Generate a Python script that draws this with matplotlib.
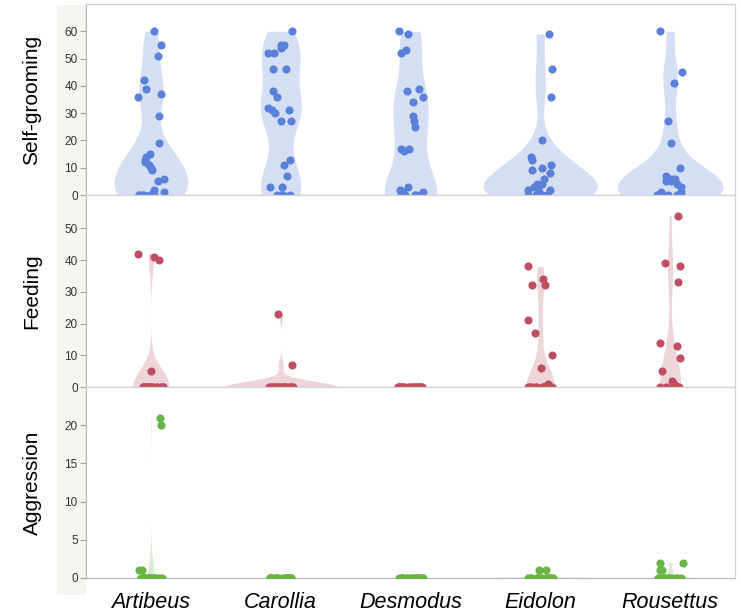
import numpy as np
import matplotlib
matplotlib.use('Agg')
import matplotlib.pyplot as plt
from matplotlib.patches import Rectangle

plt.rcParams['font.family'] = ['Liberation Sans', 'DejaVu Sans']

# categories
species = ['Artibeus', 'Carollia', 'Desmodus', 'Eidolon', 'Rousettus']
behaviours = ['Self-grooming', 'Feeding', 'Aggression']

# values, one list per species
self_grooming = [
    [60, 55, 51, 42, 39, 37, 36, 29, 19, 15, 14, 13, 12, 11, 10, 9, 6, 5, 2, 1, 0, 0, 0, 0, 0, 0, 0],
    [60, 55, 55, 54, 52, 52, 46, 46, 38, 36, 32, 31, 31, 30, 27, 27, 13, 11, 7, 3, 3, 0, 0, 0, 0],
    [60, 59, 53, 52, 39, 38, 36, 34, 29, 27, 25, 17, 17, 16, 3, 2, 1, 1, 0, 0, 0, 0, 0],
    [59, 46, 36, 20, 14, 13, 11, 10, 9, 8, 6, 4, 4, 3, 3, 2, 2, 1, 0, 0, 0, 0, 0, 0],
    [60, 45, 41, 27, 19, 10, 7, 6, 6, 5, 5, 4, 3, 1, 1, 0, 0, 0, 0, 0, 0],
]
feeding = [
    [42, 41, 40, 5] + [0] * 20,
    [23, 7] + [0] * 23,
    [0] * 23,
    [38, 34, 32, 32, 21, 17, 10, 6, 1] + [0] * 13,
    [54, 39, 38, 33, 14, 13, 9, 5, 2, 1] + [0] * 8,
]
aggression = [
    [21, 20, 1, 1] + [0] * 20,
    [0] * 25,
    [0] * 23,
    [1, 1] + [0] * 20,
    [2, 2, 1, 1] + [0] * 14,
]
y_max = [70, 60.5, 25]
y_ticks = [np.arange(0, 61, 10), np.arange(0, 51, 10), np.arange(0, 21, 5)]

dot_colors = ['#5b80da', '#bf4e60', '#6ab447']
fill_colors = ['#d5dff4', '#eed5da', '#d7ecd0']


def kde_shape(vals, n_grid=300):
    # gaussian kde (scott bandwidth, adjusted), cut at the data range
    v = np.asarray(vals, float)
    if v.std() == 0:
        return None
    h = 0.72 * v.std(ddof=1) * len(v) ** -0.2
    y = np.linspace(v.min(), v.max(), n_grid)
    d = np.exp(-0.5 * ((y[:, None] - v[None, :]) / h) ** 2).sum(1)
    d = d / (len(v) * h * np.sqrt(2 * np.pi))
    return y, d


fig = plt.figure(figsize=(7.41, 6.13), dpi=100)
W, H = 741.0, 613.0

# beige strip behind the y tick labels
fig.add_artist(Rectangle((57 / W, 1 - 595 / H), 29 / W, 590 / H,
                         transform=fig.transFigure, color='#f6f5f0', lw=0, zorder=0))

left, right = 86 / W, 735 / W
edges = [4, 195, 387, 578]
rng = np.random.default_rng(7)
axes = []
for k, data in enumerate([self_grooming, feeding, aggression]):
    top = 1 - edges[k] / H
    bot = 1 - edges[k + 1] / H
    ax = fig.add_axes([left, bot, right - left, top - bot])
    axes.append(ax)

    shapes = [kde_shape(v) for v in data]
    peak = max(s[1].max() for s in shapes if s is not None)
    scale = 0.44 / peak
    for i, s in enumerate(shapes):
        if s is None:
            continue
        y, d = s
        ax.fill_betweenx(y, i - d * scale, i + d * scale, color=fill_colors[k], lw=0, zorder=1)

    for i, v in enumerate(data):
        xs = i + rng.uniform(-0.1, 0.1, len(v))
        ax.scatter(xs, v, s=34, color=dot_colors[k], lw=0, zorder=3)

    ax.set_xlim(-0.5, 4.5)
    ax.set_ylim(0, y_max[k])
    ax.set_yticks(y_ticks[k])
    ax.tick_params(axis='y', length=4, width=0.8, color='#a0a0a0', labelsize=8.5,
                   labelcolor='#333333', pad=2)
    for side in ['top', 'right', 'bottom']:
        ax.spines[side].set_color('#d4d4d4')
        ax.spines[side].set_linewidth(0.9)
    ax.spines['left'].set_color('#b8b8b8')
    ax.spines['left'].set_linewidth(0.9)

    fig.text(32 / W, (top + bot) / 2, behaviours[k], rotation=90, ha='center', va='center',
             fontsize=15, color='black')

    ax.set_xticks(range(len(species)))
    if k < 2:
        ax.tick_params(axis='x', length=0, labelbottom=False)
    else:
        ax.set_xticklabels(species, fontsize=15.5, style='italic')
        ax.tick_params(axis='x', length=0, pad=10)
        ax.spines['bottom'].set_color('#b8b8b8')

fig.savefig('out.png', dpi=100)
